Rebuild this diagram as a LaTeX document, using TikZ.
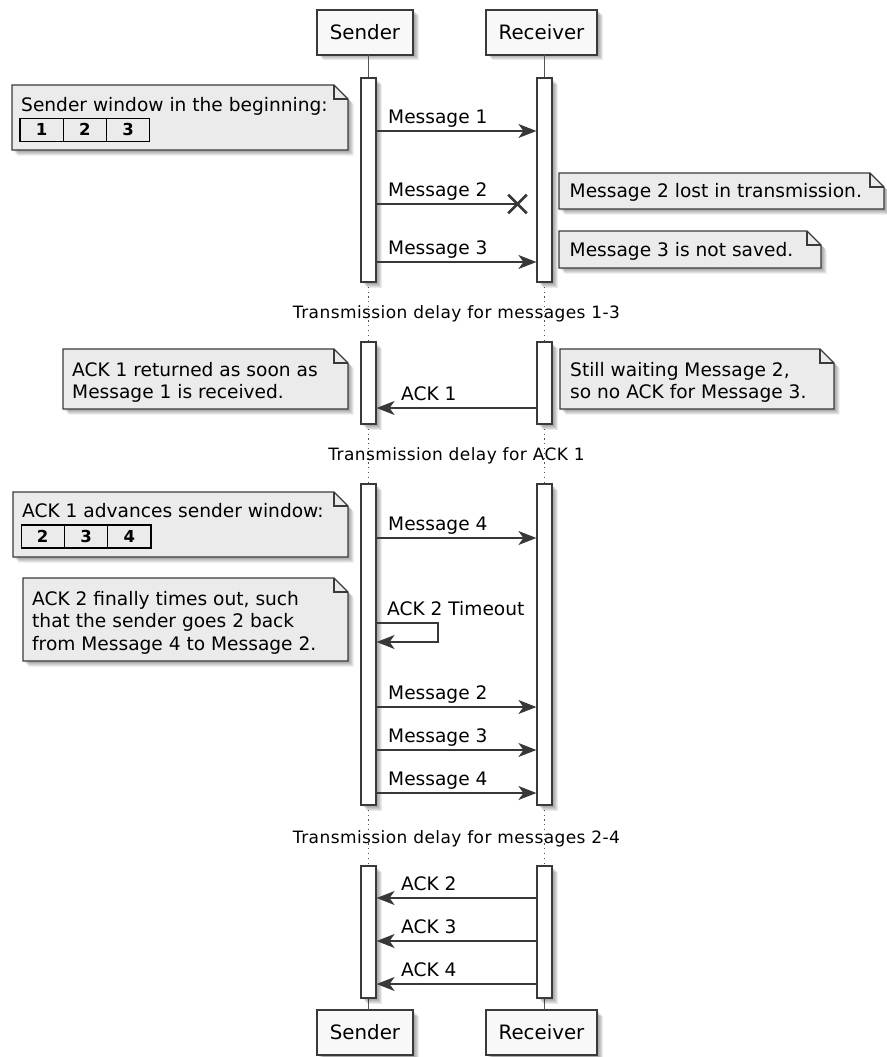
\documentclass[tikz,border=0pt]{standalone}
\usepackage{fontspec}
\setmainfont{DejaVu Sans}
\newfontfamily\delayfont[LetterSpace=2.5]{DejaVu Sans}
\usetikzlibrary{arrows.meta,shadows,shapes.misc}

\definecolor{ink}{HTML}{383838}
\definecolor{frame}{HTML}{3A3A3A}
\definecolor{headfill}{HTML}{F8F8F8}
\definecolor{notefill}{HTML}{EBEBEB}
\definecolor{lifegray}{HTML}{555555}

% note with a folded top-right corner: left, top, right, bottom
\newcommand\drawnote[4]{%
  \filldraw[notebox,softshadow] (#1,#2) -- (#3-14,#2) -- (#3,#2+14) -- (#3,#4) -- (#1,#4) -- cycle;
  \draw[notebox,fill=none] (#3-14,#2) -- (#3-14,#2+14) -- (#3,#2+14);}

\begin{document}
\begin{tikzpicture}[x=1pt,y=-1pt,
  softshadow/.style={
    general shadow={fill=black,opacity=0.08,shadow xshift=1.5pt,shadow yshift=-1.5pt},
    general shadow={fill=black,opacity=0.08,shadow xshift=2.5pt,shadow yshift=-2.5pt},
    general shadow={fill=black,opacity=0.08,shadow xshift=3.5pt,shadow yshift=-3.5pt},
    general shadow={fill=black,opacity=0.08,shadow xshift=4.5pt,shadow yshift=-4.5pt},
    general shadow={fill=black,opacity=0.08,shadow xshift=5.5pt,shadow yshift=-5.5pt}},
  head/.style={draw=frame, line width=1.7pt, fill=headfill, inner sep=0pt,
    minimum height=45pt, font=\fontsize{19.8}{24}\selectfont, softshadow},
  bar/.style={draw=frame, line width=1.2pt, fill=white, inner sep=0pt,
    minimum width=15pt, softshadow},
  life/.style={draw=lifegray, line width=1.1pt},
  gap/.style={draw=lifegray, line width=1.1pt, dash pattern=on 1.2pt off 3.6pt},
  msg/.style={draw=ink, line width=1.3pt, -{Stealth[length=18pt,width=14pt,inset=5pt]}},
  plain/.style={draw=ink, line width=1.3pt},
  lbl/.style={anchor=base west, inner sep=0pt, font=\fontsize{18.6}{22}\selectfont},
  delay/.style={anchor=base, inner sep=0pt, font=\delayfont\fontsize{17}{20}\selectfont},
  notebox/.style={draw=frame, line width=1.2pt, fill=notefill, line join=miter},
  notetext/.style={anchor=base west, inner sep=0pt, font=\fontsize{18.6}{22.5}\selectfont},
  cell/.style={draw=black, line width=1.1pt, inner sep=0pt, minimum width=43.3pt,
    minimum height=23pt, font=\fontsize{16.5}{18}\selectfont\bfseries},
  lost/.style={cross out, draw=ink, line width=2.6pt, inner sep=0pt, minimum size=16pt}
]
\useasboundingbox (0,0) rectangle (886,1057);

% participants
\node[head, minimum width=96pt]  (sTop) at (365,32.5)   {Sender};
\node[head, minimum width=111pt] (rTop) at (541.5,32.5) {Receiver};
\node[head, minimum width=96pt]  (sBot) at (365,1032.5)   {Sender};
\node[head, minimum width=111pt] (rBot) at (541.5,1032.5) {Receiver};

% lifelines: solid ends, dotted delays
\draw[life] (368.5,55) -- (368.5,78);
\draw[life] (544.5,55) -- (544.5,78);
\draw[gap] (368.5,282) -- (368.5,342);
\draw[gap] (544.5,282) -- (544.5,342);
\draw[gap] (368.5,424) -- (368.5,484);
\draw[gap] (544.5,424) -- (544.5,484);
\draw[gap] (368.5,805) -- (368.5,866);
\draw[gap] (544.5,805) -- (544.5,866);
\draw[life] (368.5,998) -- (368.5,1010);
\draw[life] (544.5,998) -- (544.5,1010);

% activation bars
\node[bar, minimum height=204pt] (sa1) at (368.5,180) {};
\node[bar, minimum height=204pt] (ra1) at (544.5,180) {};
\node[bar, minimum height=82pt]  (sa2) at (368.5,383) {};
\node[bar, minimum height=82pt]  (ra2) at (544.5,383) {};
\node[bar, minimum height=321pt] (sa3) at (368.5,644.5) {};
\node[bar, minimum height=321pt] (ra3) at (544.5,644.5) {};
\node[bar, minimum height=132pt] (sa4) at (368.5,932) {};
\node[bar, minimum height=132pt] (ra4) at (544.5,932) {};

% delay dividers
\node[delay] (d1) at (456.5,318) {Transmission delay for messages 1-3};
\node[delay] (d2) at (456.5,460) {Transmission delay for ACK 1};
\node[delay] (d3) at (456.5,843) {Transmission delay for messages 2-4};

% first burst
\draw[msg] (sa1.east |- 0,131) -- (ra1.west |- 0,131);
\node[lbl] (l1) at (388,123) {Message 1};
\node[lost] (x2) at (517.5,204) {};
\draw[plain] (sa1.east |- x2) -- (x2.center);
\node[lbl] (l2) at (388,196) {Message 2};
\draw[msg] (sa1.east |- 0,262) -- (ra1.west |- 0,262);
\node[lbl] (l3) at (388,254) {Message 3};

% first acknowledgement
\draw[msg] (ra2.west |- 0,408) -- (sa2.east |- 0,408);
\node[lbl] (l4) at (401,400.5) {ACK 1};

% second burst
\draw[msg] (sa3.east |- 0,538) -- (ra3.west |- 0,538);
\node[lbl] (l5) at (388,530) {Message 4};
\draw[msg] (sa3.east |- 0,623) -- (438,623) -- (438,642) -- (sa3.east |- 0,642);
\node[lbl] (l6) at (387,615) {ACK 2 Timeout};
\draw[msg] (sa3.east |- 0,707) -- (ra3.west |- 0,707);
\node[lbl] (l7) at (388,699) {Message 2};
\draw[msg] (sa3.east |- 0,750) -- (ra3.west |- 0,750);
\node[lbl] (l8) at (388,742) {Message 3};
\draw[msg] (sa3.east |- 0,793) -- (ra3.west |- 0,793);
\node[lbl] (l9) at (388,785) {Message 4};

% final acknowledgements
\draw[msg] (ra4.west |- 0,898) -- (sa4.east |- 0,898);
\node[lbl] (l10) at (401,890.5) {ACK 2};
\draw[msg] (ra4.west |- 0,941) -- (sa4.east |- 0,941);
\node[lbl] (l11) at (401,933.5) {ACK 3};
\draw[msg] (ra4.west |- 0,984) -- (sa4.east |- 0,984);
\node[lbl] (l12) at (401,976.5) {ACK 4};

% notes
\drawnote{12}{85}{348}{150}
\node[notetext] (n1) at (21,111) {Sender window in the beginning:};
\node[cell] (w11) at (41.6,129.7)  {1};
\node[cell] (w12) at (84.9,129.7)  {2};
\node[cell] (w13) at (128.2,129.7) {3};

\drawnote{559}{173}{884}{209}
\node[notetext] (n2) at (569.5,197) {Message 2 lost in transmission.};

\drawnote{559}{231}{821}{268}
\node[notetext] (n3) at (569.5,256.5) {Message 3 is not saved.};

\drawnote{63}{349}{348}{409}
\node[notetext] (n4) at (72,376) {\vtop{\hbox{ACK 1 returned as soon as}\hbox{Message 1 is received.}}};

\drawnote{560}{349}{834}{409}
\node[notetext] (n5) at (570,376) {\vtop{\hbox{Still waiting Message 2,}\hbox{so no ACK for Message 3.}}};

\drawnote{13}{492}{348}{557}
\node[notetext] (n6) at (22,517) {ACK 1 advances sender window:};
\node[cell] (w21) at (42.7,536.5)  {2};
\node[cell] (w22) at (86,536.5)    {3};
\node[cell] (w23) at (129.3,536.5) {4};

\drawnote{23}{578}{348}{661}
\node[notetext] (n7) at (32,605) {\vtop{\hbox{ACK 2 finally times out, such}\hbox{that the sender goes 2 back}\hbox{from Message 4 to Message 2.}}};
\end{tikzpicture}
\end{document}
